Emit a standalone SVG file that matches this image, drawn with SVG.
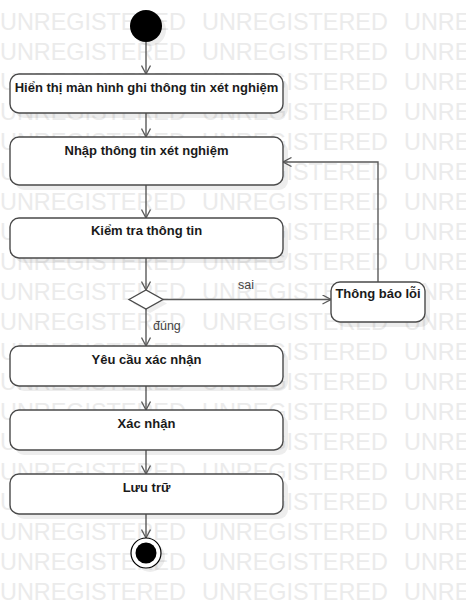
<svg xmlns="http://www.w3.org/2000/svg" width="466" height="610" viewBox="0 0 466 610">
<defs>
<style>
.wm{font-family:"Liberation Sans",Arial,sans-serif;font-size:23.4px;fill:#ebebeb}
.box{fill:#fff;stroke:#4a4a4a;stroke-width:1.4}
.sh{fill:#000;opacity:0.07}
.lbl{font-family:"Liberation Sans",Arial,sans-serif;font-size:13px;font-weight:bold;fill:#1a1a1a;text-anchor:middle}
.edge{fill:none;stroke:#5a5a5a;stroke-width:1.4;marker-end:url(#arr)}
.elbl{font-family:"Liberation Sans",Arial,sans-serif;font-size:12.5px;fill:#444}
</style>
<marker id="arr" markerUnits="userSpaceOnUse" viewBox="0 0 10 10" refX="9.5" refY="5" markerWidth="10" markerHeight="10" orient="auto">
<path d="M1,0.5 L9.5,5 L1,9.5" fill="none" stroke="#5a5a5a" stroke-width="1.3"/>
</marker>
<g id="wmrow">
<text class="wm" x="0">UNREGISTERED</text>
<text class="wm" x="202">UNREGISTERED</text>
<text class="wm" x="404">UNREGISTERED</text>
</g>
</defs>
<g id="watermark">
<use href="#wmrow" y="30"/><use href="#wmrow" y="60"/><use href="#wmrow" y="90"/><use href="#wmrow" y="120"/>
<use href="#wmrow" y="150"/><use href="#wmrow" y="180"/><use href="#wmrow" y="210"/><use href="#wmrow" y="240"/>
<use href="#wmrow" y="270"/><use href="#wmrow" y="300"/><use href="#wmrow" y="330"/><use href="#wmrow" y="360"/>
<use href="#wmrow" y="390"/><use href="#wmrow" y="420"/><use href="#wmrow" y="450"/><use href="#wmrow" y="480"/>
<use href="#wmrow" y="510"/><use href="#wmrow" y="540"/><use href="#wmrow" y="570"/><use href="#wmrow" y="600"/>
</g>
<g id="connectors">
<path class="edge" d="M146,42 V74"/>
<path class="edge" d="M146,113 V137"/>
<path class="edge" d="M146,185 V218"/>
<path class="edge" d="M146,258 V290"/>
<path class="edge" d="M163,299.5 H331"/>
<text class="elbl" x="238" y="289">sai</text>
<path class="edge" d="M146,309 V346"/>
<text class="elbl" x="153" y="330">đúng</text>
<path class="edge" d="M378,282 V162 H283"/>
<path class="edge" d="M146,386 V410"/>
<path class="edge" d="M146,450 V474"/>
<path class="edge" d="M146,514 V538"/>
</g>
<g id="initial">
<circle class="sh" cx="150" cy="30" r="16"/>
<circle cx="146" cy="26" r="16" fill="#000"/>
</g>
<g id="n1">
<rect class="sh" x="15" y="79" width="273" height="39" rx="9"/>
<rect class="box" x="10" y="74" width="273" height="39" rx="9"/>
<text class="lbl" x="146.5" y="91.5">Hiển thị màn hình ghi thông tin xét nghiệm</text>
</g>
<g id="n2">
<rect class="sh" x="15" y="142" width="273" height="48" rx="9"/>
<rect class="box" x="10" y="137" width="273" height="48" rx="9"/>
<text class="lbl" x="146.5" y="155">Nhập thông tin xét nghiệm</text>
</g>
<g id="n3">
<rect class="sh" x="15" y="223" width="273" height="40" rx="9"/>
<rect class="box" x="10" y="218" width="273" height="40" rx="9"/>
<text class="lbl" x="146.5" y="235">Kiểm tra thông tin</text>
</g>
<g id="decision">
<polygon class="sh" points="133,303.5 150,294 167,303.5 150,313"/>
<polygon class="box" points="129,299.5 146,290 163,299.5 146,309"/>
</g>
<g id="nerr">
<rect class="sh" x="336" y="287" width="94" height="40" rx="9"/>
<rect class="box" x="331" y="282" width="94" height="40" rx="9"/>
<text class="lbl" x="378" y="298">Thông báo lỗi</text>
</g>
<g id="n4">
<rect class="sh" x="15" y="351" width="273" height="40" rx="9"/>
<rect class="box" x="10" y="346" width="273" height="40" rx="9"/>
<text class="lbl" x="146.5" y="363.5">Yêu cầu xác nhận</text>
</g>
<g id="n5">
<rect class="sh" x="15" y="415" width="273" height="40" rx="9"/>
<rect class="box" x="10" y="410" width="273" height="40" rx="9"/>
<text class="lbl" x="146.5" y="427.5">Xác nhận</text>
</g>
<g id="n6">
<rect class="sh" x="15" y="479" width="273" height="40" rx="9"/>
<rect class="box" x="10" y="474" width="273" height="40" rx="9"/>
<text class="lbl" x="146.5" y="491.5">Lưu trữ</text>
</g>
<g id="final">
<circle class="sh" cx="150" cy="557" r="15"/>
<circle cx="146" cy="553" r="15" fill="#fff" stroke="#000" stroke-width="1.2"/>
<circle cx="146" cy="553" r="10.5" fill="#000"/>
</g>
</svg>
